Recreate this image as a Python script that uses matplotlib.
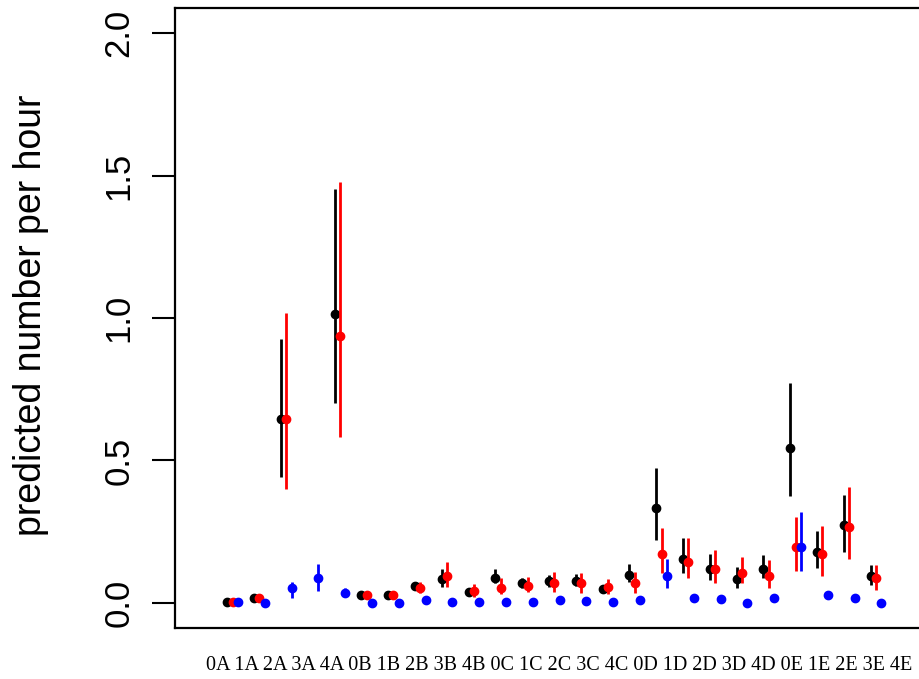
import numpy as np
import matplotlib
matplotlib.use("Agg")
import matplotlib.pyplot as plt

nan = np.nan

categories = ["0A", "1A", "2A", "3A", "4A", "0B", "1B", "2B", "3B", "4B",
              "0C", "1C", "2C", "3C", "4C", "0D", "1D", "2D", "3D", "4D",
              "0E", "1E", "2E", "3E", "4E"]

black_mean = [0.003, 0.017, 0.647, nan, 1.014, 0.028, 0.028, 0.059, 0.084, 0.038,
              0.087, 0.070, 0.077, 0.077, 0.049, 0.098, 0.332, 0.154, 0.119, 0.084,
              0.119, 0.542, 0.178, 0.273, 0.094]
black_lo = [0.000, 0.012, 0.441, nan, 0.703, 0.024, 0.024, 0.050, 0.056, 0.031,
            0.070, 0.052, 0.056, 0.059, 0.035, 0.073, 0.220, 0.105, 0.080, 0.052,
            0.087, 0.374, 0.122, 0.178, 0.063]
black_hi = [0.006, 0.022, 0.927, nan, 1.451, 0.032, 0.032, 0.070, 0.119, 0.045,
            0.119, 0.087, 0.098, 0.101, 0.063, 0.136, 0.472, 0.227, 0.171, 0.126,
            0.168, 0.773, 0.252, 0.378, 0.133]

red_mean = [0.003, 0.017, 0.647, nan, 0.937, 0.028, 0.028, 0.052, 0.094, 0.042,
            0.052, 0.059, 0.070, 0.070, 0.056, 0.070, 0.171, 0.143, 0.119, 0.105,
            0.094, 0.196, 0.171, 0.266, 0.087]
red_lo = [0.000, 0.012, 0.399, nan, 0.584, 0.024, 0.024, 0.035, 0.056, 0.021,
          0.031, 0.038, 0.038, 0.035, 0.031, 0.035, 0.105, 0.087, 0.070, 0.070,
          0.052, 0.112, 0.094, 0.154, 0.045]
red_hi = [0.006, 0.022, 1.017, nan, 1.476, 0.032, 0.032, 0.073, 0.143, 0.066,
          0.087, 0.091, 0.108, 0.105, 0.084, 0.108, 0.262, 0.227, 0.185, 0.161,
          0.150, 0.300, 0.269, 0.406, 0.133]

blue_mean = [0.003, 0.000, 0.052, 0.087, 0.035, 0.000, 0.000, 0.010, 0.003, 0.003,
             0.003, 0.003, 0.010, 0.007, 0.003, 0.010, 0.094, 0.017, 0.014, 0.000,
             0.017, 0.196, 0.028, 0.017, 0.000]
blue_lo = [0.003, 0.000, 0.017, 0.042, 0.021, 0.000, 0.000, 0.010, 0.003, 0.003,
           0.003, 0.003, 0.010, 0.007, 0.003, 0.010, 0.052, 0.017, 0.014, 0.000,
           0.017, 0.112, 0.028, 0.017, 0.000]
blue_hi = [0.003, 0.000, 0.073, 0.136, 0.052, 0.000, 0.000, 0.010, 0.003, 0.003,
           0.003, 0.003, 0.010, 0.007, 0.003, 0.010, 0.154, 0.017, 0.014, 0.000,
           0.017, 0.318, 0.028, 0.017, 0.000]

yticks = [0.0, 0.5, 1.0, 1.5, 2.0]

W, H = 919, 679
fig = plt.figure(figsize=(W / 100, H / 100), dpi=100)
ax = fig.add_axes([175 / W, 51 / H, 760 / W, 620 / H])

x = np.arange(len(categories))
series = [
    (black_mean, black_lo, black_hi, "black", -0.4),
    (red_mean, red_lo, red_hi, "red", -0.2),
    (blue_mean, blue_lo, blue_hi, "blue", 0.0),
]
for mean, lo, hi, col, off in series:
    ax.vlines(x + off, lo, hi, color=col, lw=2.0)
    ax.plot(x + off, mean, "o", color=col, ms=6, mec=col)

ax.set_xlim(-2.35, 26.0)
ax.set_ylim(-0.088, 2.088)
ax.set_xticks([])
ax.set_yticks(yticks)
ax.set_yticklabels([f"{v:.1f}" for v in yticks], rotation=90, va="center",
                   family="Liberation Sans", fontsize=25)
ax.tick_params(axis="y", length=16.5, width=1.5, pad=12)
for side in ["left", "bottom", "top"]:
    ax.spines[side].set_linewidth(1.6)
ax.spines["right"].set_visible(False)

# category labels are one string under the axis, not real ticks
fig.text(206 / W, 1 - 665 / H, " ".join(categories), ha="left", va="center",
         family="Liberation Serif", fontsize=14.5)
fig.text(31 / W, 1 - 315 / H, "predicted number per hour", rotation=90,
         ha="center", va="center", family="Liberation Sans", fontsize=27)

fig.savefig("out.png", dpi=100)
